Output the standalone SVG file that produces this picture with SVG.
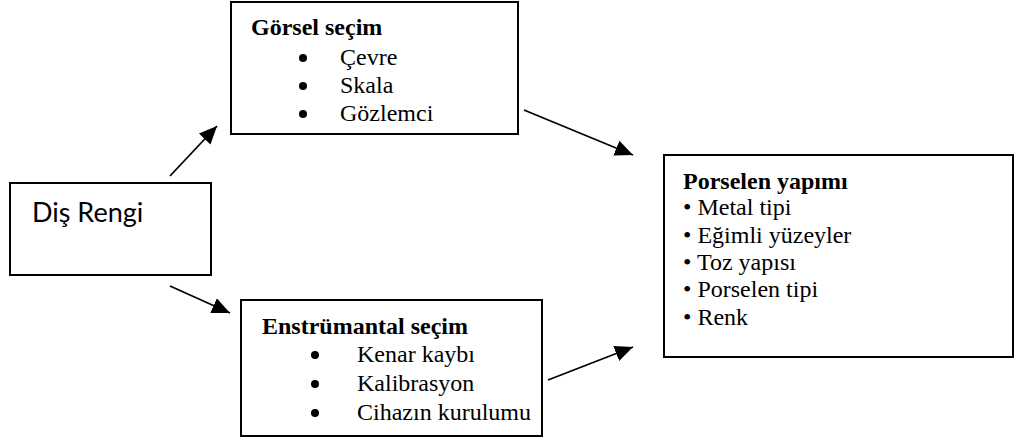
<svg xmlns="http://www.w3.org/2000/svg" width="1016" height="439" viewBox="0 0 1016 439">
  <style>
    .box { fill: #fff; stroke: #000; stroke-width: 2; }
    .title { font-family: "Liberation Serif", "Times New Roman", serif; font-weight: bold; font-size: 24px; fill: #000; }
    .item { font-family: "Liberation Serif", "Times New Roman", serif; font-size: 24px; fill: #000; }
    .sans { font-family: Lato, "Open Sans", sans-serif; font-size: 27px; fill: #000; }
    .conn { stroke: #000; stroke-width: 1.8; fill: none; marker-end: url(#arrow); }
  </style>
  <defs>
    <marker id="arrow" markerUnits="userSpaceOnUse" markerWidth="20" markerHeight="16" refX="18" refY="8" orient="auto">
      <path d="M0,0 L18,8 L0,16 Z" fill="#000"/>
    </marker>
  </defs>
  <rect width="1016" height="439" fill="#fff"/>

  <g id="connectors">
    <line class="conn" x1="170" y1="176" x2="217" y2="126"/>
    <line class="conn" x1="170" y1="286" x2="230" y2="313"/>
    <line class="conn" x1="524" y1="110" x2="633" y2="155"/>
    <line class="conn" x1="548" y1="380" x2="633" y2="347"/>
  </g>

  <g id="dis-rengi">
    <rect class="box" x="10" y="183" width="201" height="92"/>
    <text class="sans" x="32" y="222">Diş Rengi</text>
  </g>

  <g id="gorsel-secim">
    <rect class="box" x="231" y="2" width="287" height="132"/>
    <text class="title" x="251" y="35">Görsel seçim</text>
    <circle cx="303" cy="58" r="4"/>
    <circle cx="303" cy="86" r="4"/>
    <circle cx="303" cy="114" r="4"/>
    <text class="item" x="340" y="65">Çevre</text>
    <text class="item" x="340" y="93">Skala</text>
    <text class="item" x="340" y="121">Gözlemci</text>
  </g>

  <g id="enstrumantal-secim">
    <rect class="box" x="241" y="300" width="301" height="136"/>
    <text class="title" x="262" y="334">Enstrümantal seçim</text>
    <circle cx="315" cy="355" r="4"/>
    <circle cx="315" cy="384" r="4"/>
    <circle cx="315" cy="413" r="4"/>
    <text class="item" x="357" y="362">Kenar kaybı</text>
    <text class="item" x="357" y="391">Kalibrasyon</text>
    <text class="item" x="357" y="420">Cihazın kurulumu</text>
  </g>

  <g id="porselen-yapimi">
    <rect class="box" x="664" y="155" width="349" height="202"/>
    <text class="title" x="683" y="189">Porselen yapımı</text>
    <text class="item" x="683" y="215">• Metal tipi</text>
    <text class="item" x="683" y="243">• Eğimli yüzeyler</text>
    <text class="item" x="683" y="270">• Toz yapısı</text>
    <text class="item" x="683" y="297">• Porselen tipi</text>
    <text class="item" x="683" y="325">• Renk</text>
  </g>
</svg>
